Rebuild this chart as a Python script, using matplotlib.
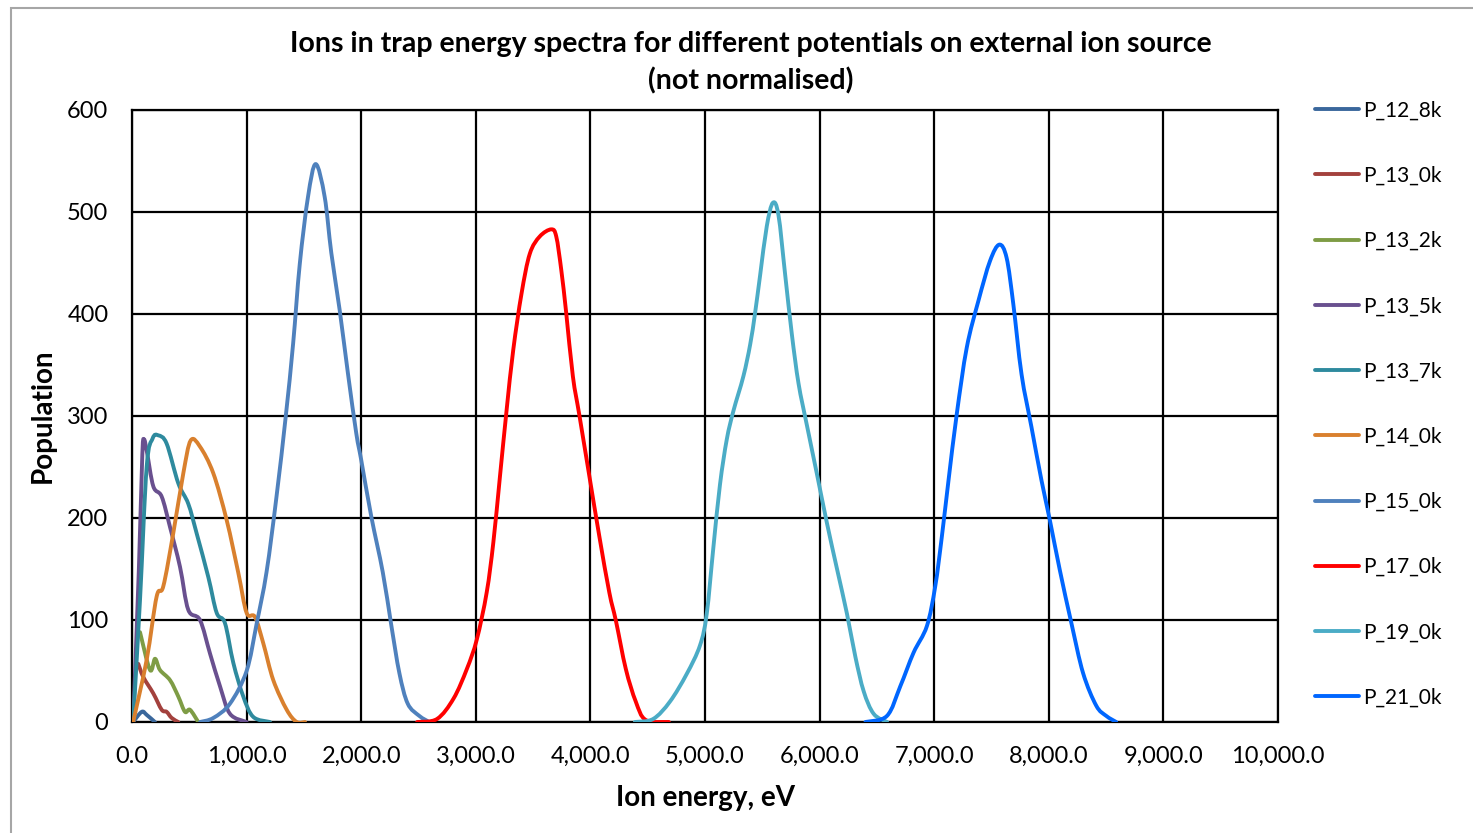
import numpy as np
import matplotlib
matplotlib.use("Agg")
import matplotlib.pyplot as plt
from matplotlib.ticker import FuncFormatter, MultipleLocator
from matplotlib.patches import Rectangle, PathPatch
from matplotlib.path import Path

plt.rcParams["font.family"] = ["Lato", "DejaVu Sans"]

# energy (eV) / population
p12_8k_x = [10, 85, 128, 200]
p12_8k_y = [0, 10, 7, 0]

p13_0k_x = [55, 99, 186, 259, 302, 346, 404]
p13_0k_y = [57, 44, 28, 12, 10, 4, 0]

p13_2k_x = [70, 157, 201, 244, 332, 404, 462, 506, 578]
p13_2k_y = [88, 51, 62, 51, 41, 25, 10, 12, 0]

p13_5k_x = [10, 60, 90, 105, 130, 186, 259, 332, 419, 491, 593, 681, 768, 855, 1000]
p13_5k_y = [0, 150, 262, 277, 265, 231, 221, 191, 152, 110, 100, 67, 35, 8, 0]

p13_7k_x = [10, 70, 128, 180, 230, 302, 404, 491, 564, 666, 739, 811, 884, 971, 1058, 1204]
p13_7k_y = [0, 120, 250, 278, 281, 273, 234, 214, 185, 142, 107, 97, 58, 25, 5, 0]

p14_0k_x = [10, 128, 215, 273, 360, 448, 512, 593, 709, 826, 928, 1000, 1073, 1146, 1233,
            1350, 1437, 1510]
p14_0k_y = [0, 61, 123, 133, 185, 244, 276, 270, 244, 198, 146, 107, 103, 77, 41, 12, 0, 0]

p15_0k_x = [594, 710, 855, 1000, 1087, 1174, 1261, 1342, 1406, 1464, 1536, 1603, 1681,
            1739, 1812, 1884, 1957, 2000, 2087, 2188, 2261, 2333, 2406, 2507, 2594]
p15_0k_y = [0, 4, 18, 50, 96, 147, 221, 300, 371, 449, 515, 547, 515, 460, 404, 342, 283,
            257, 202, 147, 96, 48, 18, 6, 0]

p17_0k_x = [2488, 2662, 2806, 2922, 3009, 3095, 3153, 3211, 3269, 3327, 3399, 3471, 3558,
            3659, 3702, 3746, 3789, 3847, 3905, 3991, 4078, 4165, 4223, 4309, 4396, 4483, 4685]
p17_0k_y = [0, 3, 23, 52, 81, 127, 176, 241, 306, 365, 420, 459, 476, 483, 476, 443, 401,
            339, 300, 241, 182, 127, 99, 52, 20, 2, 0]

p19_0k_x = [4388, 4548, 4694, 4840, 4956, 5015, 5073, 5131, 5190, 5248, 5335, 5394, 5437,
            5481, 5539, 5592, 5641, 5700, 5758, 5816, 5889, 5977, 6064, 6152, 6239, 6312,
            6385, 6472, 6589]
p19_0k_y = [0, 3, 20, 47, 75, 106, 171, 233, 277, 305, 339, 370, 401, 438, 486, 509, 497,
            438, 380, 332, 291, 243, 195, 150, 106, 64, 30, 8, 0]

p21_0k_x = [6400, 6588, 6704, 6820, 6936, 7009, 7067, 7125, 7197, 7284, 7386, 7487, 7568,
            7632, 7690, 7762, 7849, 7936, 8009, 8096, 8197, 8299, 8414, 8501, 8588]
p21_0k_y = [0, 6, 35, 68, 94, 133, 182, 237, 302, 367, 413, 452, 468, 455, 410, 341, 289,
            237, 198, 149, 97, 48, 16, 6, 0]

labels = ["P_12_8k", "P_13_0k", "P_13_2k", "P_13_5k", "P_13_7k",
          "P_14_0k", "P_15_0k", "P_17_0k", "P_19_0k", "P_21_0k"]
colors = ["#3A679C", "#A3413D", "#7E9C45", "#69508F", "#2E8A9E",
          "#D9802E", "#4F81BD", "#FF0000", "#4BACC6", "#0066FF"]
series = [(p12_8k_x, p12_8k_y), (p13_0k_x, p13_0k_y), (p13_2k_x, p13_2k_y),
          (p13_5k_x, p13_5k_y), (p13_7k_x, p13_7k_y), (p14_0k_x, p14_0k_y),
          (p15_0k_x, p15_0k_y), (p17_0k_x, p17_0k_y), (p19_0k_x, p19_0k_y),
          (p21_0k_x, p21_0k_y)]


def smooth_path(x, y, t=0.5):
    # Excel-style "smoothed line": cubic Bezier through each data point
    p = np.column_stack([x, y]).astype(float)
    q = np.vstack([p[0], p, p[-1]])
    verts = [p[0]]
    codes = [Path.MOVETO]
    for i in range(1, len(q) - 2):
        c1 = q[i] + (q[i + 1] - q[i - 1]) * t / 3
        c2 = q[i + 1] - (q[i + 2] - q[i]) * t / 3
        verts += [c1, c2, q[i + 1]]
        codes += [Path.CURVE4] * 3
    return Path(verts, codes)


fig = plt.figure(figsize=(14.73, 8.33), dpi=100)
ax = fig.add_axes([132/1473, 1-722/833, (1278-132)/1473, (722-110)/833])

# light grey chart-area frame (right/bottom edges run off the picture)
fig.patches.append(Rectangle((11/1473, -0.1), 1.2, 1 - 8/833 + 0.1,
                             transform=fig.transFigure, fill=False,
                             edgecolor="#A6A6A6", linewidth=1.5))

for (x, y), lab, c in zip(series, labels, colors):
    ax.add_patch(PathPatch(smooth_path(x, y), fill=False, edgecolor=c, lw=2.8,
                           capstyle="round", joinstyle="round", zorder=3))
    ax.plot([], [], color=c, lw=2.8, label=lab, solid_capstyle="round")

ax.set_xlim(0, 10000)
ax.set_ylim(0, 600)
ax.xaxis.set_major_locator(MultipleLocator(1000))
ax.yaxis.set_major_locator(MultipleLocator(100))
ax.xaxis.set_major_formatter(FuncFormatter(lambda v, p: f"{v:,.1f}"))
ax.grid(True, color="black", lw=1.6)
ax.set_axisbelow(True)
for s in ax.spines.values():
    s.set_linewidth(1.6)
ax.tick_params(length=0, labelsize=17, pad=17)

ax.set_xlabel("Ion energy, eV", fontsize=20, fontweight="bold", labelpad=13)
ax.set_ylabel("Population", fontsize=20, fontweight="bold", labelpad=8)

fig.text(751/1473, 1-63/833,
         "Ions in trap energy spectra for different potentials on external ion source\n(not normalised)",
         ha="center", va="center", fontsize=20.5, fontweight="bold", linespacing=1.45)

ax.legend(loc="center left", bbox_to_anchor=(1315/1473, 1-404/833),
          bbox_transform=fig.transFigure, frameon=False, fontsize=15,
          handlelength=2.1, handletextpad=0.2, labelspacing=2.17,
          borderpad=0, borderaxespad=0)

fig.savefig("out.png", dpi=100)
